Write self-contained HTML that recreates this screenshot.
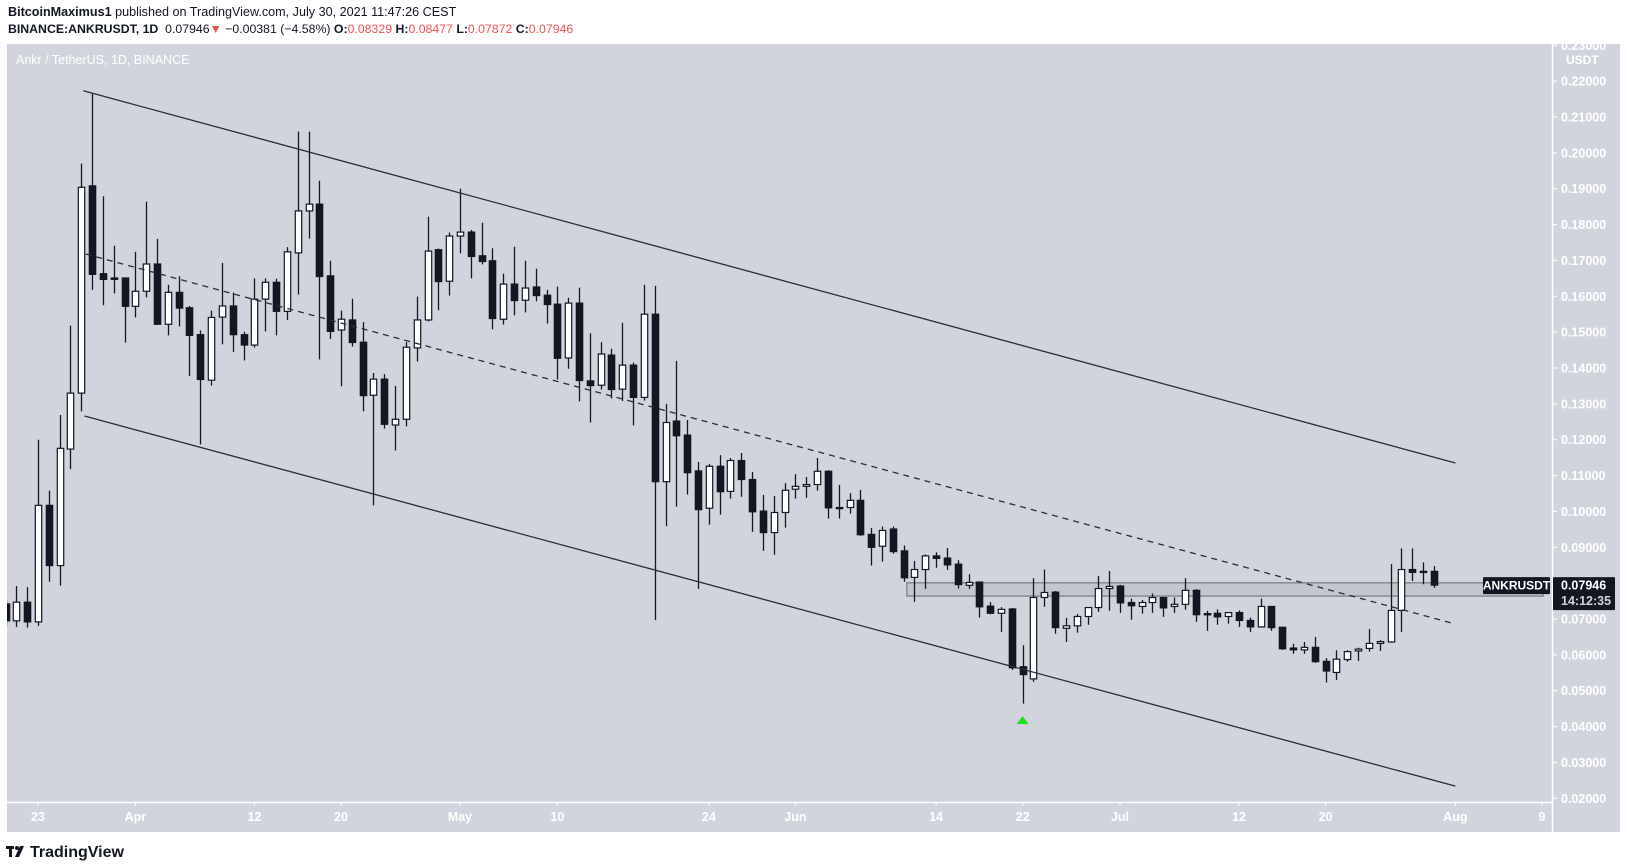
<!DOCTYPE html>
<html><head><meta charset="utf-8">
<style>
html,body{margin:0;padding:0;background:#fff;}
body{width:1627px;height:867px;overflow:hidden;position:relative;font-family:"Liberation Sans",sans-serif;}
.hdr{position:absolute;left:8px;font-size:12.6px;color:#131722;white-space:nowrap;}
.b{font-weight:bold;}
.r{color:#ef5350;}
</style></head>
<body>
<div class="hdr" style="top:5px"><span class="b">BitcoinMaximus1</span> published on TradingView.com, July 30, 2021 11:47:26 CEST</div>
<div class="hdr" style="top:22px;font-size:12.3px"><span class="b">BINANCE:ANKRUSDT, 1D</span>&nbsp; 0.07946<span class="r">▼</span> −0.00381 (−4.58%) <span class="b">O:</span><span class="r">0.08329</span> <span class="b">H:</span><span class="r">0.08477</span> <span class="b">L:</span><span class="r">0.07872</span> <span class="b">C:</span><span class="r">0.07946</span></div>
<svg id="chart" width="1627" height="867" style="position:absolute;left:0;top:0">
<rect x="7" y="44" width="1613" height="788" fill="#d1d4dc"/>
<defs><clipPath id="plot"><rect x="7" y="44" width="1545" height="758"/></clipPath></defs>
<g id="plotg" clip-path="url(#plot)"></g>
<line x1="1552.5" y1="44" x2="1552.5" y2="832" stroke="#fff" stroke-width="1.5"/>
<line x1="7" y1="802.5" x2="1552" y2="802.5" stroke="#fff" stroke-width="1.5"/>
<g id="yaxis"></g><g id="xaxis"></g>
<text x="16" y="64" fill="#fff" font-size="12.5" font-family="Liberation Sans, sans-serif">Ankr / TetherUS, 1D, BINANCE</text>
<text x="1566" y="64" fill="#fff" font-size="12" font-weight="bold" font-family="Liberation Sans, sans-serif">USDT</text>
<g>
<rect x="6" y="846" width="8" height="3" fill="#131722"/><rect x="9" y="846" width="3" height="11" fill="#131722"/>
<circle cx="17" cy="848" r="2" fill="#131722"/><polygon points="20,846 24,846 19,857 15,857" fill="#131722"/>
<text x="30" y="857" font-size="16" font-weight="bold" fill="#131722" font-family="Liberation Sans, sans-serif">TradingView</text>
</g>
</svg>
<script>
const startOffset = -3; // first candle is Mar 20 (Mar 23 = day 0)
const opens = [.0742,.0695,.0747,.0692,.1017,.0849,.1174,.1330,.1908,.1663,.1651,.1651,
.1572,.1614,.1690,.1522,.1611,.1568,.1493,.1366,.1542,.1573,.1493,.1464,.1592,.1639,.1558,.1721,.1838,.1857,.1657,.1506,.1534,.1472,.1324,.1369,.1241,.1257,.1456,.1534,.1730,.1642,
.1768,.1779,.1713,.1699,.1536,.1634,.1589,.1626,.1603,.1578,.1428,.1581,.1364,.1352,.1436,.1341,.1408,.1318,.1550,.1083,.1252,.1213,.1113,.1009,.1126,.1056,.1142,.1089,.1001,.0941,.0997,
.1062,.1070,.1075,.1112,.1011,.1011,.1031,.0936,.0903,.0951,.0890,.0816,.0838,.0876,.0870,.0853,.0794,.0803,.0736,.0716,.0728,.0567,.0533,.0760,.0775,.0674,.0681,.0707,.0732,.0785,
.0792,.0746,.0735,.0746,.0760,.0735,.0741,.0780,.0715,.0716,.0707,.0718,.0696,.0678,.0735,.0677,.0619,.0614,.0621,.0582,.0551,.0587,.0611,.0618,.0632,.0636,.0724,.0838,.0833,.08329];
const highs = [.0753,.0792,.0789,.1200,.1058,.1269,.1518,.1970,.2166,.1879,.1741,.1651,
.1724,.1864,.1760,.1632,.1656,.1573,.1505,.1560,.1693,.1610,.1501,.1650,.1650,.1649,.1737,.2059,.2059,.1922,.1699,.1560,.1593,.1528,.1386,.1383,.1350,.1472,.1599,.1822,.1733,.1778,
.1900,.1785,.1805,.1734,.1663,.1738,.1699,.1677,.1618,.1627,.1596,.1624,.1497,.1472,.1454,.1526,.1415,.1632,.1629,.1300,.1420,.1255,.1138,.1132,.1157,.1149,.1163,.1110,.1046,.1043,.1079,
.1104,.1096,.1149,.1115,.1074,.1051,.1060,.0954,.0958,.0958,.0905,.0862,.0880,.0886,.0898,.0864,.0825,.0803,.0747,.0733,.0731,.0627,.0814,.0838,.0778,.0703,.0714,.0732,.0820,.0834,
.0795,.0757,.0753,.0771,.0760,.0760,.0814,.0783,.0723,.0727,.0718,.0724,.0704,.0757,.0735,.0679,.0631,.0636,.0650,.0591,.0613,.0613,.0620,.0672,.0641,.0853,.0897,.0897,.0858,.08477];
const lows = [.0680,.0678,.0676,.0681,.0804,.0793,.1118,.1279,.1618,.1575,.1608,.1471,
.1541,.1597,.1520,.1491,.1516,.1378,.1187,.1351,.1466,.1445,.1421,.1457,.1502,.1491,.1534,.1605,.1761,.1424,.1481,.1349,.1460,.1279,.1017,.1231,.1170,.1237,.1418,.1530,.1561,.1602,
.1720,.1650,.1689,.1508,.1521,.1547,.1555,.1586,.1524,.1368,.1398,.1307,.1248,.1340,.1315,.1308,.1240,.1309,.0697,.0959,.1013,.1047,.0784,.0963,.0991,.1036,.1041,.0943,.0890,.0879,.0955,
.1036,.1038,.1058,.0980,.0980,.0994,.0932,.0849,.0860,.0882,.0804,.0748,.0784,.0843,.0837,.0785,.0784,.0704,.0713,.0664,.0558,.0464,.0525,.0734,.0659,.0636,.0662,.0684,.0720,.0723,
.0717,.0698,.0715,.0717,.0706,.0717,.0726,.0692,.0667,.0684,.0687,.0678,.0664,.0676,.0667,.0614,.0603,.0603,.0578,.0523,.0530,.0581,.0583,.0609,.0611,.0634,.0664,.0806,.0797,.07872];
const closes = [.0695,.0747,.0692,.1017,.0849,.1176,.1330,.1904,.1661,.1647,.1647,.1572,
.1614,.1690,.1522,.1611,.1567,.1491,.1368,.1541,.1573,.1493,.1464,.1592,.1639,.1558,.1724,.1838,.1857,.1655,.1502,.1536,.1471,.1323,.1369,.1243,.1257,.1458,.1534,.1726,.1641,.1768,
.1779,.1711,.1697,.1538,.1634,.1588,.1623,.1602,.1577,.1427,.1581,.1365,.1351,.1439,.1340,.1408,.1318,.1550,.1083,.1248,.1211,.1108,.1005,.1126,.1055,.1142,.1089,.0999,.0941,.0997,.1059,
.1070,.1075,.1112,.1010,.1010,.1031,.0935,.0900,.0947,.0888,.0815,.0838,.0876,.0869,.0851,.0796,.0802,.0734,.0716,.0727,.0564,.0545,.0760,.0774,.0676,.0681,.0707,.0732,.0785,.0791,
.0745,.0737,.0746,.0760,.0731,.0741,.0780,.0712,.0712,.0706,.0718,.0696,.0678,.0735,.0676,.0617,.0614,.0621,.0581,.0555,.0588,.0609,.0616,.0632,.0637,.0724,.0838,.0830,.0830,.07946];
const priceTicks = [0.02,0.03,0.04,0.05,0.06,0.07,0.08,0.09,0.10,0.11,0.12,0.13,0.14,0.15,0.16,0.17,0.18,0.19,0.20,0.21,0.22,0.23];
const timeLabels = ["23","Apr","12","20","May","10","24","Jun","14","22","Jul","12","20","Aug","9"];
const timeDays = [0,9,20,28,39,48,62,70,83,91,100,111,119,131,139];
const upperLine = [[4.2,0.2173],[131,0.1135]];
const lowerLine = [[4.3,0.1266],[131,0.0234]];
const midLine = [[4.4,0.1718],[131,0.0686]];
const zoneDays = [80.3,139.1];
const zonePrices = [0.0764,0.0801];
const signalDay = 91;
const signalPrice = 0.0418;
const lastPrice = 0.07946;

const NS="http://www.w3.org/2000/svg";
function xs(d){return 38 + d*10.82;}
function ys(p){return 547.3 + (0.09-p)*3586;}
function mk(tag,attrs,parent){const e=document.createElementNS(NS,tag);for(const k in attrs)e.setAttribute(k,attrs[k]);parent.appendChild(e);return e;}
const plot=document.getElementById('plotg');
const yax=document.getElementById('yaxis');
const xax=document.getElementById('xaxis');

const zr=mk('rect',{x:xs(zoneDays[0]),y:ys(zonePrices[1]),width:xs(zoneDays[1])-xs(zoneDays[0]),height:ys(zonePrices[0])-ys(zonePrices[1]),fill:'#c3c6ce',stroke:'#868993','stroke-width':1.5},plot);



for(let i=0;i<opens.length;i++){
  const d=i+startOffset, cx=Math.round(xs(d))+0.5;
  const o=opens[i],h=highs[i],l=lows[i],c=closes[i];
  const up=c>=o;
  const g=mk('g',{},plot);
  
  
  mk('line',{x1:cx,x2:cx,y1:ys(h),y2:ys(l),stroke:'#131722','stroke-width':1.3},g);
  const top=ys(Math.max(o,c)),bot=ys(Math.min(o,c));
  mk('rect',{x:cx-3.2,y:top,width:6.4,height:Math.max(bot-top,1.2),fill:up?'#ffffff':'#131722',stroke:'#131722','stroke-width':1.2},g);
}

function tl(arr,name,dash){
  const ln=mk('line',{x1:xs(arr[0][0]),y1:ys(arr[0][1]),x2:xs(arr[1][0]),y2:ys(arr[1][1]),stroke:'#2a2e39','stroke-width':1.3},plot);
  if(dash)ln.setAttribute('stroke-dasharray','6,5');
  
  
}
tl(upperLine,'upper-channel-line',false);
tl(lowerLine,'lower-channel-line',false);
tl(midLine,'middle-dashed-line',true);

const sx=xs(signalDay), sy=ys(signalPrice);
const tri=mk('polygon',{points:`${sx-6},${sy+4} ${sx+6},${sy+4} ${sx},${sy-4}`,fill:'#1ee01e'},plot);



priceTicks.forEach(p=>{
  const y=ys(p);
  mk('line',{x1:1552,x2:1557,y1:y,y2:y,stroke:'#fff','stroke-width':1},yax);
  const t=mk('text',{x:1561,y:y+4.5,fill:'#fff','font-size':12.5,'font-weight':'bold','font-family':'Liberation Sans, sans-serif'},yax);
  t.textContent=p.toFixed(5);
  
  
});
timeLabels.forEach((lab,i)=>{
  const x=xs(timeDays[i]);
  mk('line',{x1:x,x2:x,y1:802,y2:806,stroke:'#fff','stroke-width':1},xax);
  const t=mk('text',{x:x,y:821,fill:'#fff','font-size':12.5,'font-weight':'bold','text-anchor':'middle','font-family':'Liberation Sans, sans-serif'},xax);
  t.textContent=lab;
  
  
});
const ly=ys(lastPrice);
const sym=mk('g',{},yax);


mk('rect',{x:1483,y:ly-8,width:67,height:17,fill:'#131722',rx:1},sym);
const st=mk('text',{x:1516.5,y:ly+4.5,fill:'#fff','font-size':12,'font-weight':'bold','text-anchor':'middle','font-family':'Liberation Sans, sans-serif'},sym);
st.textContent='ANKRUSDT';
const pt=mk('g',{},yax);


mk('rect',{x:1553,y:ly-8,width:62,height:33,fill:'#131722',rx:1},pt);
const p1=mk('text',{x:1561,y:ly+4.5,fill:'#fff','font-size':12.5,'font-weight':'bold','font-family':'Liberation Sans, sans-serif'},pt);
p1.textContent=lastPrice.toFixed(5);
const p2=mk('text',{x:1561,y:ly+20,fill:'#d1d4dc','font-size':12.5,'font-weight':'bold','font-family':'Liberation Sans, sans-serif'},pt);
p2.textContent='14:12:35';
</script>
</body></html>
